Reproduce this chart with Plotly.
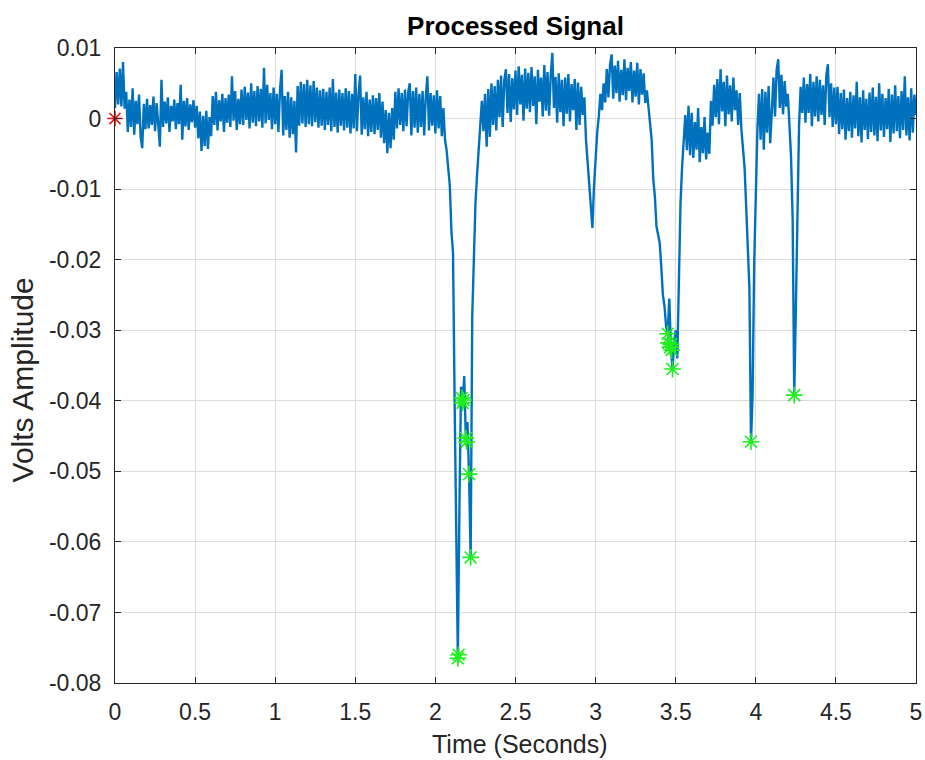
import numpy as np
import plotly.graph_objects as go

# Sample spacing of the processed signal (seconds)
sample_step_s = 0.01

# Signal samples in millivolts, t = 0.00 .. 5.00 s
signal_mV = [
    1.5, 6.6, 2.0, 7.1, 1.7, 8.0, 1.4, 3.8, -1.9, 2.7,
    -1.2, 4.3, -2.3, 2.5, -0.8, 3.4, -2.6, -4.2, 2.1, -1.5,
    2.8, -1.4, 1.9, -0.9, 3.1, -1.8, 2.2, -0.6, -4.0, 5.5,
    -1.2, 2.4, -0.7, 3.0, -1.9, 1.8, -0.4, 2.7, -1.5, 2.2,
    -0.8, 4.8, -3.0, 2.5, -1.1, 2.9, -1.6, 2.0, -0.5, 2.6,
    -1.3, 1.8, -2.8, 1.0, -4.6, 0.4, -3.9, 1.1, -4.3, 0.2,
    -2.5, 3.2, -0.9, 3.8, -1.7, 2.6, -0.4, 3.5, -1.9, 2.9,
    -0.6, 3.4, -1.2, 6.0, -0.3, 3.9, -1.6, 2.8, -0.8, 4.1,
    -0.9, 4.5, -0.2, 3.7, -1.4, 5.0, -0.6, 3.9, -1.1, 4.6,
    -0.4, 4.2, -1.3, 7.2, -0.7, 4.8, -0.2, 3.6, -1.5, 4.4,
    -0.8, 3.5, -1.9, 4.0, 6.9, -2.4, 3.2, -1.6, 3.8, -2.7,
    3.0, -2.2, 2.5, -4.8, 4.6, -1.0, 5.2, -0.7, 4.9, -1.2,
    5.5, -0.8, 4.7, -1.1, 5.3, -0.5, 4.4, -1.3, 4.0, -1.0,
    4.2, -1.6, 3.8, -0.9, 4.4, -1.8, 5.6, -1.2, 3.7, -2.0,
    4.1, -1.0, 3.6, -1.7, 4.3, -1.3, 3.9, -2.1, 3.5, -1.4,
    6.3, -1.8, 3.4, 6.1, -2.3, 3.0, -1.5, 3.8, -2.5, 2.7,
    -1.9, 3.3, -2.2, 2.9, -1.6, 3.6, -2.7, 2.4, -3.5, 1.2,
    -4.9, 0.8, -4.2, 1.5, -3.0, 3.8, -1.4, 4.3, -0.9, 3.6,
    -1.8, 4.1, -1.1, 3.7, 5.0, -2.4, 3.9, -1.3, 4.4, -2.0,
    3.5, -1.2, 3.9, -2.4, 3.1, 6.0, -1.7, 3.6, -1.0, 3.3,
    -2.1, 4.0, -1.4, 3.2, -2.5, 1.5, -3.0, -4.5, -7.0, -9.5,
    -16.0, -19.0, -40.0, -62.0, -76.5, -55.0, -38.0, -40.5, -36.5, -45.5,
    -43.0, -50.5, -62.2, -28.0, -19.0, -12.0, -8.0, -4.5, -1.5, 2.5,
    -1.8, 3.5, -4.0, 4.2, -2.6, 5.0, -0.9, 4.6, -1.7, 5.5,
    0.2, 6.1, -1.2, 5.4, 7.0, 0.8, 6.3, -0.5, 5.7, 1.3,
    6.8, 0.5, 7.4, 2.0, 6.2, -0.3, 7.1, 1.4, 6.5, 0.9,
    7.3, 1.8, 6.0, -0.8, 6.9, 2.4, 5.8, 0.3, 7.6, 1.1,
    6.6, 0.4, 6.1, 9.3, 1.5, 5.9, -0.6, 6.4, 0.9, 5.5,
    -1.1, 5.8, 0.7, 6.3, -0.4, 4.9, 1.2, 5.6, -1.6, 5.1,
    -0.9, 4.5, 0.5, 3.0, -3.0, -6.5, -9.5, -13.0, -15.5, -9.6,
    -5.4, -2.0, 0.3, 3.5, 1.2, 5.0, 2.3, 7.0, 3.0, 7.6,
    9.1, 2.8, 7.5, 3.6, 8.2, 2.4, 6.9, 3.3, 8.4, 2.6,
    7.2, 3.9, 8.0, 2.3, 6.8, 3.1, 7.9, 2.0, 7.0, 3.4,
    6.4, 2.2, 4.0, 1.3, -1.0, -3.0, -8.6, -11.0, -15.3, -16.5,
    -17.6, -21.0, -25.0, -26.6, -29.4, -30.5, -25.5, -32.4, -35.5, -31.8,
    -30.0, -34.0, -20.0, -12.0, -6.8, -2.5, 0.5, -4.5, 1.8, -5.2,
    0.8, -5.6, -0.5, -4.4, 1.5, -6.2, -1.2, -4.9, 0.2, -5.8,
    -2.0, -5.0, 2.5, -1.0, 4.8, 0.2, 5.6, -0.8, 7.0, 1.0,
    5.2, -1.1, 6.1, 0.6, 4.7, -0.4, 5.8, 1.2, 4.0, -0.9,
    3.6, -1.5, -4.0, -7.0, -12.5, -18.0, -24.0, -45.8, -39.0, -20.5,
    -10.5, -1.5, 3.5, -3.0, 4.2, -4.4, 3.8, -2.0, 4.6, -3.5,
    1.0, 5.8, 0.3, 6.9, 8.4, 1.5, 6.2, 0.6, 5.3, 1.7,
    3.5, -1.0, -5.4, -14.3, -39.2, -27.0, -13.0, -1.0, 4.5, 0.8,
    5.8, -0.6, 4.9, 0.8, 6.3, -1.1, 5.2, 0.3, 6.0, -0.4,
    5.5, 0.5, 4.7, -0.9, 6.1, 7.7, 0.2, 5.0, -1.2, 4.4,
    -0.8, 4.5, -2.2, 3.6, -1.5, 4.1, -3.0, 2.9, -1.8, 3.8,
    -2.7, 3.3, -1.4, 5.2, -2.5, 3.0, -3.4, 4.0, -1.6, 2.8,
    -2.9, 3.7, -1.9, 4.4, -2.4, 3.1, -3.2, 5.0, -1.7, 3.5,
    -2.6, 2.9, -1.5, 4.2, -3.3, 3.4, -2.1, 4.7, -1.8, 3.2,
    -2.8, 3.9, -1.6, 6.0, -2.4, 3.0, -3.1, 4.3, -2.0, 3.4,
    0.5,
]

# Detected minima (green) and start marker (red)
peak_times_s = [2.14, 2.145, 2.165, 2.17, 2.175, 2.19, 2.195, 2.21, 2.22,
                3.45, 3.455, 3.465, 3.47, 3.475, 3.48, 3.97, 4.24]
peak_volts = [-0.0765, -0.0760, -0.0396, -0.0403, -0.0399, -0.0453, -0.0458, -0.0504, -0.0622,
              -0.0305, -0.0318, -0.0324, -0.0320, -0.0328, -0.0355, -0.0458, -0.0392]
start_time_s = [0.0]
start_volts = [0.0]

x_ticks = [0, 0.5, 1, 1.5, 2, 2.5, 3, 3.5, 4, 4.5, 5]
x_ticktext = ["0", "0.5", "1", "1.5", "2", "2.5", "3", "3.5", "4", "4.5", "5"]
y_ticks = [0.01, 0, -0.01, -0.02, -0.03, -0.04, -0.05, -0.06, -0.07, -0.08]
y_ticktext = ["0.01", "0", "-0.01", "-0.02", "-0.03", "-0.04", "-0.05", "-0.06", "-0.07", "-0.08"]

volts = np.array(signal_mV) / 1000.0
time_s = np.arange(len(volts)) * sample_step_s

fig = go.Figure()
fig.add_trace(go.Scatter(x=time_s, y=volts, mode="lines",
                         line=dict(color="#0072BD", width=2.4), showlegend=False))
fig.add_trace(go.Scatter(x=peak_times_s, y=peak_volts, mode="markers",
                         marker=dict(symbol="asterisk-open", size=14, color="#1EEE1E",
                                     line=dict(color="#1EEE1E", width=1.6)),
                         showlegend=False))
fig.add_trace(go.Scatter(x=start_time_s, y=start_volts, mode="markers",
                         marker=dict(symbol="asterisk-open", size=13, color="#EE1111",
                                     line=dict(color="#EE1111", width=1.6)),
                         showlegend=False, cliponaxis=False))

font = "Liberation Sans, Arial, sans-serif"
axis_common = dict(showline=True, linecolor="#262626", linewidth=1, mirror="ticks",
                   ticks="inside", ticklen=6, tickcolor="#262626", automargin=False,
                   showgrid=True, gridcolor="#DCDCDC", gridwidth=1, zeroline=False,
                   tickfont=dict(family=font, size=23, color="#262626"))

fig.update_layout(
    width=925, height=760,
    paper_bgcolor="white", plot_bgcolor="white",
    margin=dict(l=115, r=9, t=48, b=77),
    title=dict(text="<b>Processed Signal</b>", x=0.5, xref="paper", xanchor="center",
               y=1 - 26 / 760, yref="container", yanchor="middle",
               font=dict(family=font, size=26, color="black")),
    xaxis=dict(range=[0, 5], tickvals=x_ticks, ticktext=x_ticktext,
               ticklabelstandoff=8, **axis_common),
    yaxis=dict(range=[-0.08, 0.01], tickvals=y_ticks, ticktext=y_ticktext,
               ticklabelstandoff=8, **axis_common),
    annotations=[
        dict(text="Time (Seconds)", xref="paper", yref="paper", x=0.506, y=-0.096,
             xanchor="center", yanchor="middle", showarrow=False,
             font=dict(family=font, size=25, color="#262626")),
        dict(text="Volts Amplitude", xref="paper", yref="paper", x=-0.1149, y=0.478,
             xanchor="center", yanchor="middle", showarrow=False, textangle=-90,
             font=dict(family=font, size=30, color="#262626")),
    ],
)

fig.write_html("out.html", config={"displayModeBar": False},
               post_script="document.body.style.margin='0';")
